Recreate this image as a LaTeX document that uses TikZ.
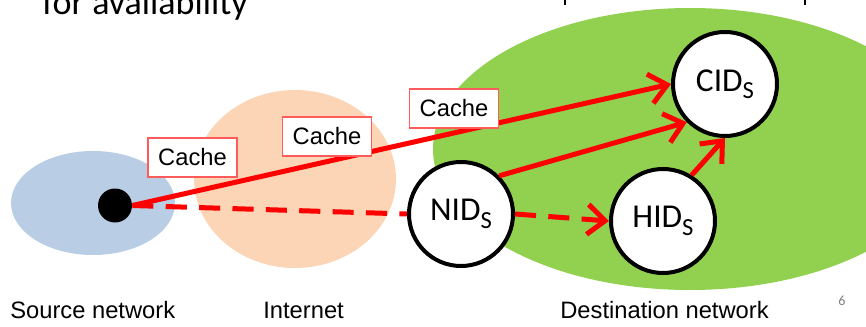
\documentclass[tikz,border=0pt]{standalone}
\usepackage{fontspec}
\setmainfont{Liberation Sans}
\newfontfamily\carlito{Carlito}
\usetikzlibrary{arrows.meta}
\usepackage{xcolor}
\definecolor{srcnet}{HTML}{B9CDE5}
\definecolor{inet}{HTML}{FBD5B5}
\definecolor{dstnet}{HTML}{92D050}
\definecolor{cacheedge}{HTML}{FF5B5B}
\newcommand{\idsub}[1]{\raisebox{-0.22em}{\fontsize{14}{14}\selectfont #1}}

\begin{document}
\begin{tikzpicture}[
    xid/.style={circle, draw=black, fill=white, line width=0.08cm, minimum size=2.08cm, inner sep=0pt, font=\carlito\fontsize{19}{20}\selectfont},
    cachebox/.style={draw=cacheedge, fill=white, line width=0.6pt, minimum width=1.78cm, minimum height=0.78cm, inner sep=0pt, font=\fontsize{13.5}{14}\selectfont},
    netlabel/.style={anchor=base west, inner sep=0pt, font=\fontsize{13.5}{14}\selectfont},
    route/.style={draw=red, line width=0.1cm},
    arr/.style={route, -{Straight Barb[length=10pt, width=17pt]}},
    dashed route/.style={route, dash pattern=on 12pt off 7pt},
]
\useasboundingbox (0,0) rectangle (17.32,6.52);

% Networks
\fill[srcnet] (1.86,2.46) ellipse (1.64cm and 1.04cm);
\fill[inet] (5.90,2.94) ellipse (2.02cm and 1.78cm);
\fill[dstnet] (13.80,3.54) ellipse (5.14cm and 2.82cm);

% Heading, cut at the top
\node[anchor=base west, inner sep=0pt, font=\carlito\fontsize{20.5}{22}\selectfont] (avail) at (0.84,6.22) {for availability};
\draw[line width=1.2pt] (11.30,6.52) -- (11.30,6.42);
\draw[line width=1.2pt] (16.10,6.52) -- (16.10,6.42);

% Host and identifiers
\node[circle, fill=black, minimum size=0.68cm, inner sep=0pt] (host) at (2.30,2.41) {};
\node[xid] (nid) at (9.22,2.24) {NID\idsub{S}};
\node[xid] (hid) at (13.26,2.10) {HID\idsub{S}};
\node[xid] (cid) at (14.50,4.84) {CID\idsub{S}};

% Arrows
\draw[arr] (host.east) -- (cid.west);
\draw[arr] (nid.45) -- (cid.225);
\draw[arr] (hid.58) -- (cid.south);
\draw[dashed route] (host.east) -- (nid.west);
\draw[dashed route, -{Straight Barb[length=10pt, width=17pt]}] (nid.east) -- (hid.west);

% Caches along the path
\node[cachebox] (cache_src) at (3.85,3.37) {Cache};
\node[cachebox] (cache_net) at (6.54,3.79) {Cache};
\node[cachebox] (cache_dst) at (9.08,4.35) {Cache};

% Labels
\node[netlabel] (src_lbl) at (0.20,0.16) {Source network};
\node[netlabel] (net_lbl) at (5.26,0.16) {Internet};
\node[netlabel] (dst_lbl) at (11.20,0.16) {Destination network};
\node[anchor=base west, inner sep=0pt, text=gray, font=\carlito\fontsize{8}{9}\selectfont] (page) at (16.76,0.42) {6};
\end{tikzpicture}
\end{document}
